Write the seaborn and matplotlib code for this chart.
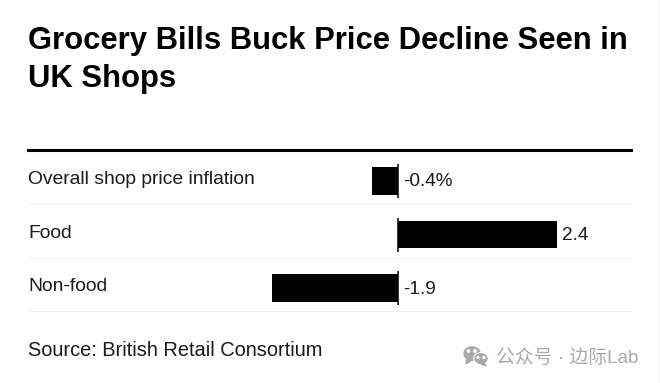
import matplotlib
matplotlib.use("Agg")
import matplotlib.pyplot as plt
from matplotlib.patches import Ellipse, Polygon
import seaborn as sns
import pandas as pd

categories = ["Overall shop price inflation", "Food", "Non-food"]
values = [-0.4, 2.4, -1.9]
value_labels = ["-0.4%", "2.4", "-1.9"]
title_lines = ["Grocery Bills Buck Price Decline Seen in", "UK Shops"]
source = "Source: British Retail Consortium"
watermark = "公众号 · 边际Lab"

W, H = 660, 383
plt.rcParams['font.family'] = ['Liberation Sans', 'Noto Sans CJK SC', 'DejaVu Sans']
fig = plt.figure(figsize=(W/100, H/100), dpi=100, facecolor="white")
TOP, BOT = 150, 311
ax = fig.add_axes([28/W, 1-BOT/H, (631-28)/W, (BOT-TOP)/H])
df = pd.DataFrame({"cat": categories, "val": values})
sns.barplot(data=df, y="cat", x="val", color="black", width=0.523, saturation=1, ax=ax)

per = (557-398)/2.4
row = 53.5
ax.set_xlim((28-398)/per, (631-398)/per)
ax.set_ylim(2+(BOT-288)/row, -(181-TOP)/row)
for s in ax.spines.values():
    s.set_visible(False)
ax.spines["top"].set_visible(True)
ax.spines["top"].set_linewidth(2.2)
ax.spines["top"].set_color("black")
ax.set_xticks([]); ax.set_yticks([])
ax.set_xlabel(""); ax.set_ylabel("")
for i in range(3):
    ax.axhline(i + 23/row, color="#f0f0f0", lw=0.8, clip_on=False, zorder=0)
    ax.vlines(0, i-17/row, i+17/row, color="black", lw=1.1, zorder=3)
for i, (c, v, l) in enumerate(zip(categories, values, value_labels)):
    fig.text(28/W, 1-(179.5+i*53.5)/H, c, fontsize=13.9, va="center", ha="left", color="#1a1a1a")
    x = 5/per if v < 0 else v + 5/per
    ax.text(x, i + 1/row, l, fontsize=13.7, va="center", ha="left", color="#1a1a1a")
fig.text(28/W, 1-40.5/H, title_lines[0], fontsize=22.3, fontweight="bold", va="center", color="black")
fig.text(28/W, 1-78.5/H, title_lines[1], fontsize=22.3, fontweight="bold", va="center", color="black")
fig.text(28/W, 1-350/H, source, fontsize=14.4, va="center", color="#1a1a1a")
fig.text(496/W, 1-359/H, watermark, fontsize=13.6, va="center", color="#aaaaaa")

# watermark icon and the thin image edge on the right
bg = fig.add_axes([0, 0, 1, 1], zorder=5)
bg.set_xlim(0, W); bg.set_ylim(H, 0); bg.axis("off"); bg.patch.set_alpha(0)
grey = "#aaaaaa"
bg.axvline(659.5, color="#d8d8d8", lw=1)
bg.add_patch(Ellipse((472, 353.5), 16, 13.5, color=grey))
bg.add_patch(Polygon([(467, 358), (466, 364), (472, 360)], color=grey))
bg.add_patch(Ellipse((481, 358.5), 14.5, 12, color=grey, ec="white", lw=0.8))
bg.add_patch(Polygon([(484, 362), (486, 366), (479, 363)], color=grey))
for px, py, r in [(468.5, 351, 1.6), (475, 351, 1.6), (478, 357.5, 1.2), (484, 357.5, 1.2)]:
    bg.add_patch(Ellipse((px, py), r*1.5, r*1.5, color="white"))
fig.savefig("out.png", dpi=100)
